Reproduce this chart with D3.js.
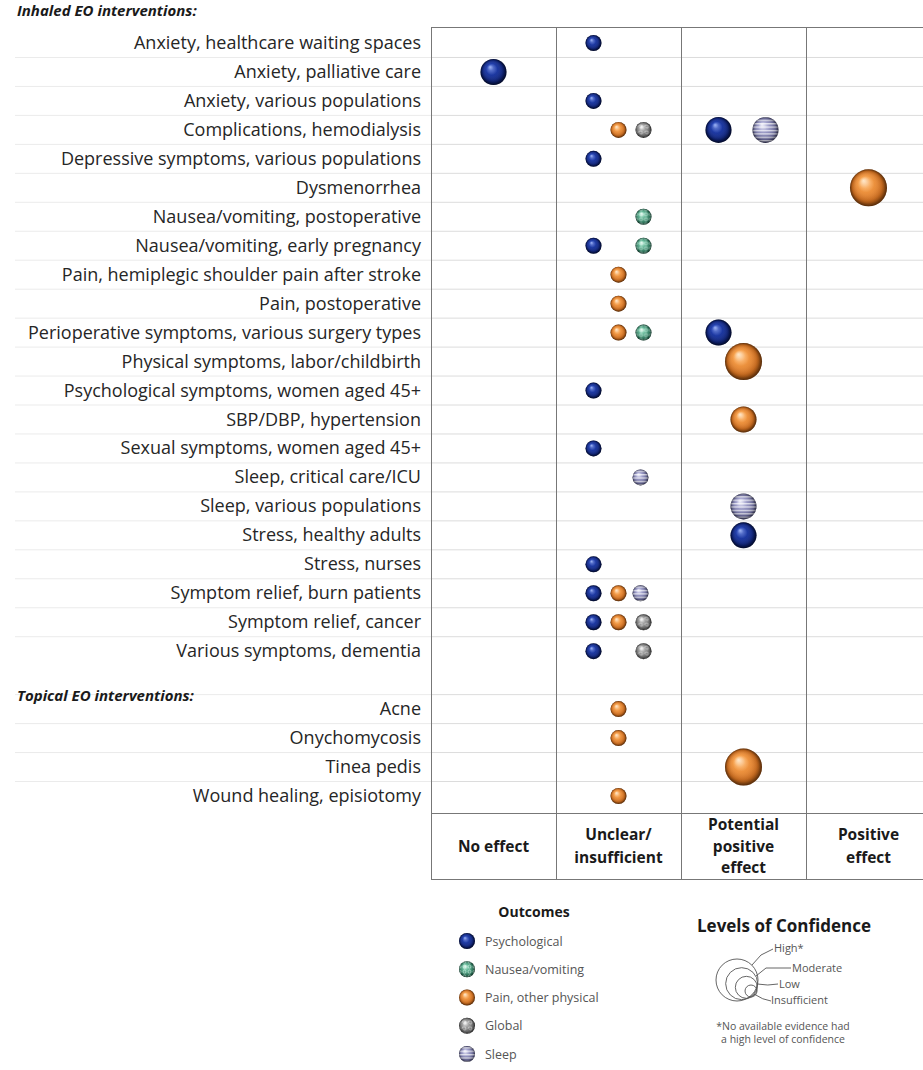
<!DOCTYPE html>
<html>
<head>
<meta charset="utf-8">
<script src="https://cdn.jsdelivr.net/npm/d3@7"></script>
<style>
  body { margin: 0; background: #fff; }
  svg { display: block; font-family: "Open Sans", Lato, sans-serif; }
</style>
</head>
<body>
<div id="chart"></div>
<script>
// rows of the evidence map
const inhaledRows = [
  "Anxiety, healthcare waiting spaces",
  "Anxiety, palliative care",
  "Anxiety, various populations",
  "Complications, hemodialysis",
  "Depressive symptoms, various populations",
  "Dysmenorrhea",
  "Nausea/vomiting, postoperative",
  "Nausea/vomiting, early pregnancy",
  "Pain, hemiplegic shoulder pain after stroke",
  "Pain, postoperative",
  "Perioperative symptoms, various surgery types",
  "Physical symptoms, labor/childbirth",
  "Psychological symptoms, women aged 45+",
  "SBP/DBP, hypertension",
  "Sexual symptoms, women aged 45+",
  "Sleep, critical care/ICU",
  "Sleep, various populations",
  "Stress, healthy adults",
  "Stress, nurses",
  "Symptom relief, burn patients",
  "Symptom relief, cancer",
  "Various symptoms, dementia"
];
const topicalRows = [
  "Acne",
  "Onychomycosis",
  "Tinea pedis",
  "Wound healing, episiotomy"
];

const effects = ["No effect", "Unclear/insufficient", "Potential positive effect", "Positive effect"];
const effectLabels = [["No effect"], ["Unclear/", "insufficient"], ["Potential", "positive", "effect"], ["Positive", "effect"]];

const outcomeKeys = ["psych", "nausea", "pain", "global", "sleep"];
const outcomeNames = ["Psychological", "Nausea/vomiting", "Pain, other physical", "Global", "Sleep"];

const confidenceLevels = ["Insufficient", "Low", "Moderate", "High"];
const confidenceLabels = ["High*", "Moderate", "Low", "Insufficient"];

// row, outcome, effect, confidence
const findings = [
  ["Anxiety, healthcare waiting spaces", "psych", "Unclear/insufficient", "Insufficient"],
  ["Anxiety, palliative care", "psych", "No effect", "Low"],
  ["Anxiety, various populations", "psych", "Unclear/insufficient", "Insufficient"],
  ["Complications, hemodialysis", "pain", "Unclear/insufficient", "Insufficient"],
  ["Complications, hemodialysis", "global", "Unclear/insufficient", "Insufficient"],
  ["Complications, hemodialysis", "psych", "Potential positive effect", "Low"],
  ["Complications, hemodialysis", "sleep", "Potential positive effect", "Low"],
  ["Depressive symptoms, various populations", "psych", "Unclear/insufficient", "Insufficient"],
  ["Dysmenorrhea", "pain", "Positive effect", "Moderate"],
  ["Nausea/vomiting, postoperative", "nausea", "Unclear/insufficient", "Insufficient"],
  ["Nausea/vomiting, early pregnancy", "psych", "Unclear/insufficient", "Insufficient"],
  ["Nausea/vomiting, early pregnancy", "nausea", "Unclear/insufficient", "Insufficient"],
  ["Pain, hemiplegic shoulder pain after stroke", "pain", "Unclear/insufficient", "Insufficient"],
  ["Pain, postoperative", "pain", "Unclear/insufficient", "Insufficient"],
  ["Perioperative symptoms, various surgery types", "pain", "Unclear/insufficient", "Insufficient"],
  ["Perioperative symptoms, various surgery types", "nausea", "Unclear/insufficient", "Insufficient"],
  ["Perioperative symptoms, various surgery types", "psych", "Potential positive effect", "Low"],
  ["Physical symptoms, labor/childbirth", "pain", "Potential positive effect", "Moderate"],
  ["Psychological symptoms, women aged 45+", "psych", "Unclear/insufficient", "Insufficient"],
  ["SBP/DBP, hypertension", "pain", "Potential positive effect", "Low"],
  ["Sexual symptoms, women aged 45+", "psych", "Unclear/insufficient", "Insufficient"],
  ["Sleep, critical care/ICU", "sleep", "Unclear/insufficient", "Insufficient"],
  ["Sleep, various populations", "sleep", "Potential positive effect", "Low"],
  ["Stress, healthy adults", "psych", "Potential positive effect", "Low"],
  ["Stress, nurses", "psych", "Unclear/insufficient", "Insufficient"],
  ["Symptom relief, burn patients", "psych", "Unclear/insufficient", "Insufficient"],
  ["Symptom relief, burn patients", "pain", "Unclear/insufficient", "Insufficient"],
  ["Symptom relief, burn patients", "sleep", "Unclear/insufficient", "Insufficient"],
  ["Symptom relief, cancer", "psych", "Unclear/insufficient", "Insufficient"],
  ["Symptom relief, cancer", "pain", "Unclear/insufficient", "Insufficient"],
  ["Symptom relief, cancer", "global", "Unclear/insufficient", "Insufficient"],
  ["Various symptoms, dementia", "psych", "Unclear/insufficient", "Insufficient"],
  ["Various symptoms, dementia", "global", "Unclear/insufficient", "Insufficient"],
  ["Acne", "pain", "Unclear/insufficient", "Insufficient"],
  ["Onychomycosis", "pain", "Unclear/insufficient", "Insufficient"],
  ["Tinea pedis", "pain", "Potential positive effect", "Moderate"],
  ["Wound healing, episiotomy", "pain", "Unclear/insufficient", "Insufficient"]
].map(d => ({ row: d[0], outcome: d[1], effect: d[2], confidence: d[3] }));

const width = 923;
const height = 1070;
const frameTop = 27, dataBottom = 813, headerBottom = 879;

const svg = d3.select("#chart")
  .append("svg")
  .attr("width", width)
  .attr("height", height);

const y = d3.scalePoint()
  .domain([...inhaledRows, "gap", ...topicalRows])
  .range([43, 796]);

const x = d3.scaleBand()
  .domain(effects)
  .range([431, 931]);

// offset of a bubble inside its cell, by outcome
const slot = d3.scaleOrdinal().domain(outcomeKeys).range([-25, 25, 0, 25, 22]);

const radius = d3.scaleOrdinal()
  .domain(confidenceLevels)
  .range([8, 13, 18.5, 24]);

// sphere colours
const sphereStops = {
  psych:  [["0%", "#6a8cf0"], ["20%", "#2848bb"], ["68%", "#0f2684"], ["100%", "#040e38"]],
  nausea: [["0%", "#d4f3e4"], ["30%", "#6cbf9f"], ["75%", "#2d7d60"], ["100%", "#164534"]],
  pain:   [["0%", "#ffdcb0"], ["28%", "#f7a24e"], ["72%", "#d7721f"], ["100%", "#84420e"]],
  global: [["0%", "#eeeeee"], ["30%", "#a8a8a8"], ["75%", "#6c6c6c"], ["100%", "#353535"]],
  sleep:  [["0%", "#e6e6f7"], ["30%", "#a6a6d0"], ["75%", "#6d6d9e"], ["100%", "#383860"]]
};

const defs = svg.append("defs");
outcomeKeys.forEach(k => {
  const g = defs.append("radialGradient")
    .attr("id", "grad-" + k)
    .attr("cx", "50%").attr("cy", "50%").attr("r", "55%")
    .attr("fx", "36%").attr("fy", "30%");
  sphereStops[k].forEach(s => g.append("stop").attr("offset", s[0]).attr("stop-color", s[1]));
});

// textures
const stripes = defs.append("pattern")
  .attr("id", "pat-sleep").attr("patternUnits", "userSpaceOnUse")
  .attr("width", 10).attr("height", 3.4);
stripes.append("rect").attr("width", 10).attr("height", 1.3).attr("fill", "#fff").attr("opacity", 0.7);

const lattice = defs.append("pattern")
  .attr("id", "pat-nausea").attr("patternUnits", "userSpaceOnUse")
  .attr("width", 5).attr("height", 5);
lattice.append("circle").attr("cx", 2.5).attr("cy", 2.5).attr("r", 1.5)
  .attr("fill", "none").attr("stroke", "#e8fff4").attr("stroke-width", 0.8).attr("opacity", 0.8);

const swirl = defs.append("pattern")
  .attr("id", "pat-global").attr("patternUnits", "userSpaceOnUse")
  .attr("width", 6).attr("height", 6);
swirl.append("path").attr("d", "M1,3 a2,2 0 1,1 4,0 a1.2,1.2 0 1,1 -2.4,0")
  .attr("fill", "none").attr("stroke", "#fff").attr("stroke-width", 0.7).attr("opacity", 0.7);

const shade = defs.append("radialGradient")
  .attr("id", "shade").attr("cx", "50%").attr("cy", "50%").attr("r", "50%")
  .attr("fx", "38%").attr("fy", "32%");
shade.append("stop").attr("offset", "0%").attr("stop-color", "#fff").attr("stop-opacity", 0.35);
shade.append("stop").attr("offset", "45%").attr("stop-color", "#fff").attr("stop-opacity", 0);
shade.append("stop").attr("offset", "85%").attr("stop-color", "#000").attr("stop-opacity", 0.15);
shade.append("stop").attr("offset", "100%").attr("stop-color", "#000").attr("stop-opacity", 0.45);

function drawSphere(sel, key) {
  sel.append("circle").attr("r", d => d.r).attr("fill", "url(#grad-" + key + ")");
  if (key === "nausea" || key === "global" || key === "sleep") {
    sel.append("circle").attr("r", d => d.r).attr("fill", "url(#pat-" + key + ")");
  }
  sel.append("circle").attr("r", d => d.r).attr("fill", "url(#shade)");
}

// faint row separators
const allRows = y.domain();
const separators = [];
for (let i = 0; i < allRows.length - 1; i++) {
  if (allRows[i + 1] === "gap") continue;
  separators.push((y(allRows[i]) + y(allRows[i + 1])) / 2);
}

svg.append("g")
  .selectAll("line")
  .data(separators)
  .enter()
  .append("line")
  .attr("x1", 15).attr("x2", 431)
  .attr("y1", d => d).attr("y2", d => d)
  .attr("stroke", "#ebebeb");

svg.append("g")
  .selectAll("line")
  .data(separators)
  .enter()
  .append("line")
  .attr("x1", 431).attr("x2", width)
  .attr("y1", d => d).attr("y2", d => d)
  .attr("stroke", "#dcdcdc");

// frame
const frame = svg.append("g").attr("stroke", "#777").attr("stroke-width", 1);
frame.selectAll("line.v")
  .data(effects)
  .enter()
  .append("line")
  .attr("x1", d => x(d) + 0.5).attr("x2", d => x(d) + 0.5)
  .attr("y1", frameTop).attr("y2", headerBottom);
[frameTop, dataBottom, headerBottom].forEach(v => {
  frame.append("line")
    .attr("x1", x(effects[0])).attr("x2", width)
    .attr("y1", v + 0.5).attr("y2", v + 0.5);
});

// row labels
svg.append("g")
  .selectAll("text")
  .data([...inhaledRows, ...topicalRows])
  .enter()
  .append("text")
  .attr("x", 421)
  .attr("y", d => y(d) + 6)
  .attr("text-anchor", "end")
  .attr("font-size", 18)
  .attr("fill", "#262626")
  .text(d => d);

svg.append("text")
  .attr("x", 17).attr("y", 16)
  .attr("font-size", 15).attr("font-weight", "bold").attr("font-style", "italic")
  .attr("fill", "#1a1a1a")
  .text("Inhaled EO interventions:");

svg.append("text")
  .attr("x", 17).attr("y", 701)
  .attr("font-size", 15).attr("font-weight", "bold").attr("font-style", "italic")
  .attr("fill", "#1a1a1a")
  .text("Topical EO interventions:");

// column labels
const headerMid = (dataBottom + headerBottom) / 2;
effects.forEach((e, i) => {
  const lines = effectLabels[i];
  const lh = lines.length === 3 ? 21.5 : 23;
  svg.append("text")
    .attr("x", x(e) + x.bandwidth() / 2)
    .attr("text-anchor", "middle")
    .attr("font-size", 15.5).attr("font-weight", "bold").attr("fill", "#1a1a1a")
    .selectAll("tspan")
    .data(lines)
    .enter()
    .append("tspan")
    .attr("x", x(e) + x.bandwidth() / 2)
    .attr("y", (d, j) => headerMid + 5.5 + (j - (lines.length - 1) / 2) * lh)
    .text(d => d);
});

// bubbles: placed by outcome inside the cell; a lone bubble in a row is centred
// unless it sits in the "unclear" column
const rowCount = d3.rollup(findings, v => v.length, d => d.row);
findings.forEach(d => {
  d.r = radius(d.confidence);
  const lone = rowCount.get(d.row) === 1 && d.effect !== "Unclear/insufficient";
  d.cx = x(d.effect) + x.bandwidth() / 2 + (lone ? 0 : slot(d.outcome));
  d.cy = y(d.row);
});

const bubbles = svg.append("g");
outcomeKeys.forEach(k => {
  const sel = bubbles.selectAll("g.b-" + k)
    .data(findings.filter(d => d.outcome === k))
    .enter()
    .append("g")
    .attr("class", "b-" + k)
    .attr("transform", d => `translate(${d.cx},${d.cy})`);
  drawSphere(sel, k);
});

// legend: outcomes
const legendY = d3.scalePoint().domain(outcomeKeys).range([941, 1054]);
svg.append("text")
  .attr("x", 534).attr("y", 917)
  .attr("text-anchor", "middle")
  .attr("font-size", 14).attr("font-weight", "bold").attr("fill", "#1a1a1a")
  .text("Outcomes");

const legendItems = svg.append("g")
  .selectAll("g")
  .data(outcomeKeys)
  .enter()
  .append("g")
  .attr("transform", d => `translate(467,${legendY(d)})`);

outcomeKeys.forEach(k => {
  const sel = legendItems.filter(d => d === k).datum({ r: 8 });
  drawSphere(sel, k);
});

svg.append("g")
  .selectAll("text")
  .data(outcomeNames)
  .enter()
  .append("text")
  .attr("x", 485)
  .attr("y", (d, i) => legendY(outcomeKeys[i]) + 4.5)
  .attr("font-size", 12.5).attr("fill", "#555")
  .text(d => d);

// legend: levels of confidence
svg.append("text")
  .attr("x", 784).attr("y", 932)
  .attr("text-anchor", "middle")
  .attr("font-size", 17).attr("font-weight", "bold").attr("fill", "#1a1a1a")
  .text("Levels of Confidence");

const ringR = d3.scaleOrdinal().domain(confidenceLabels).range([21, 16, 11, 6]);
const ringPos = d3.scalePoint().domain(confidenceLabels).range([0, 1]);
const rings = confidenceLabels.map(l => ({
  label: l,
  r: ringR(l),
  cx: 737 + 14 * ringPos(l),
  cy: 980 + 11 * ringPos(l)
}));

svg.append("g")
  .selectAll("circle")
  .data(rings)
  .enter()
  .append("circle")
  .attr("cx", d => d.cx).attr("cy", d => d.cy).attr("r", d => d.r)
  .attr("fill", "none").attr("stroke", "#555").attr("stroke-width", 0.9);

const leaders = [
  { label: "High*", path: "M752,965 L761,955 L773,949", tx: 774, ty: 952 },
  { label: "Moderate", path: "M756,976 L766,968 L791,968", tx: 792, ty: 972 },
  { label: "Low", path: "M757,984 Q768,986 778,984", tx: 779, ty: 988 },
  { label: "Insufficient", path: "M754,994 Q763,1000 771,1001", tx: 771, ty: 1004 }
];
svg.append("g")
  .selectAll("path")
  .data(leaders)
  .enter()
  .append("path")
  .attr("d", d => d.path)
  .attr("fill", "none").attr("stroke", "#555").attr("stroke-width", 0.9);

svg.append("g")
  .selectAll("text")
  .data(leaders)
  .enter()
  .append("text")
  .attr("x", d => d.tx).attr("y", d => d.ty)
  .attr("font-size", 11).attr("fill", "#555")
  .text(d => d.label);

svg.append("text")
  .attr("x", 783).attr("text-anchor", "middle")
  .attr("font-size", 10.5).attr("fill", "#555")
  .selectAll("tspan")
  .data(["*No available evidence had", "a high level of confidence"])
  .enter()
  .append("tspan")
  .attr("x", 783)
  .attr("y", (d, i) => 1030 + i * 13)
  .text(d => d);
</script>
</body>
</html>
